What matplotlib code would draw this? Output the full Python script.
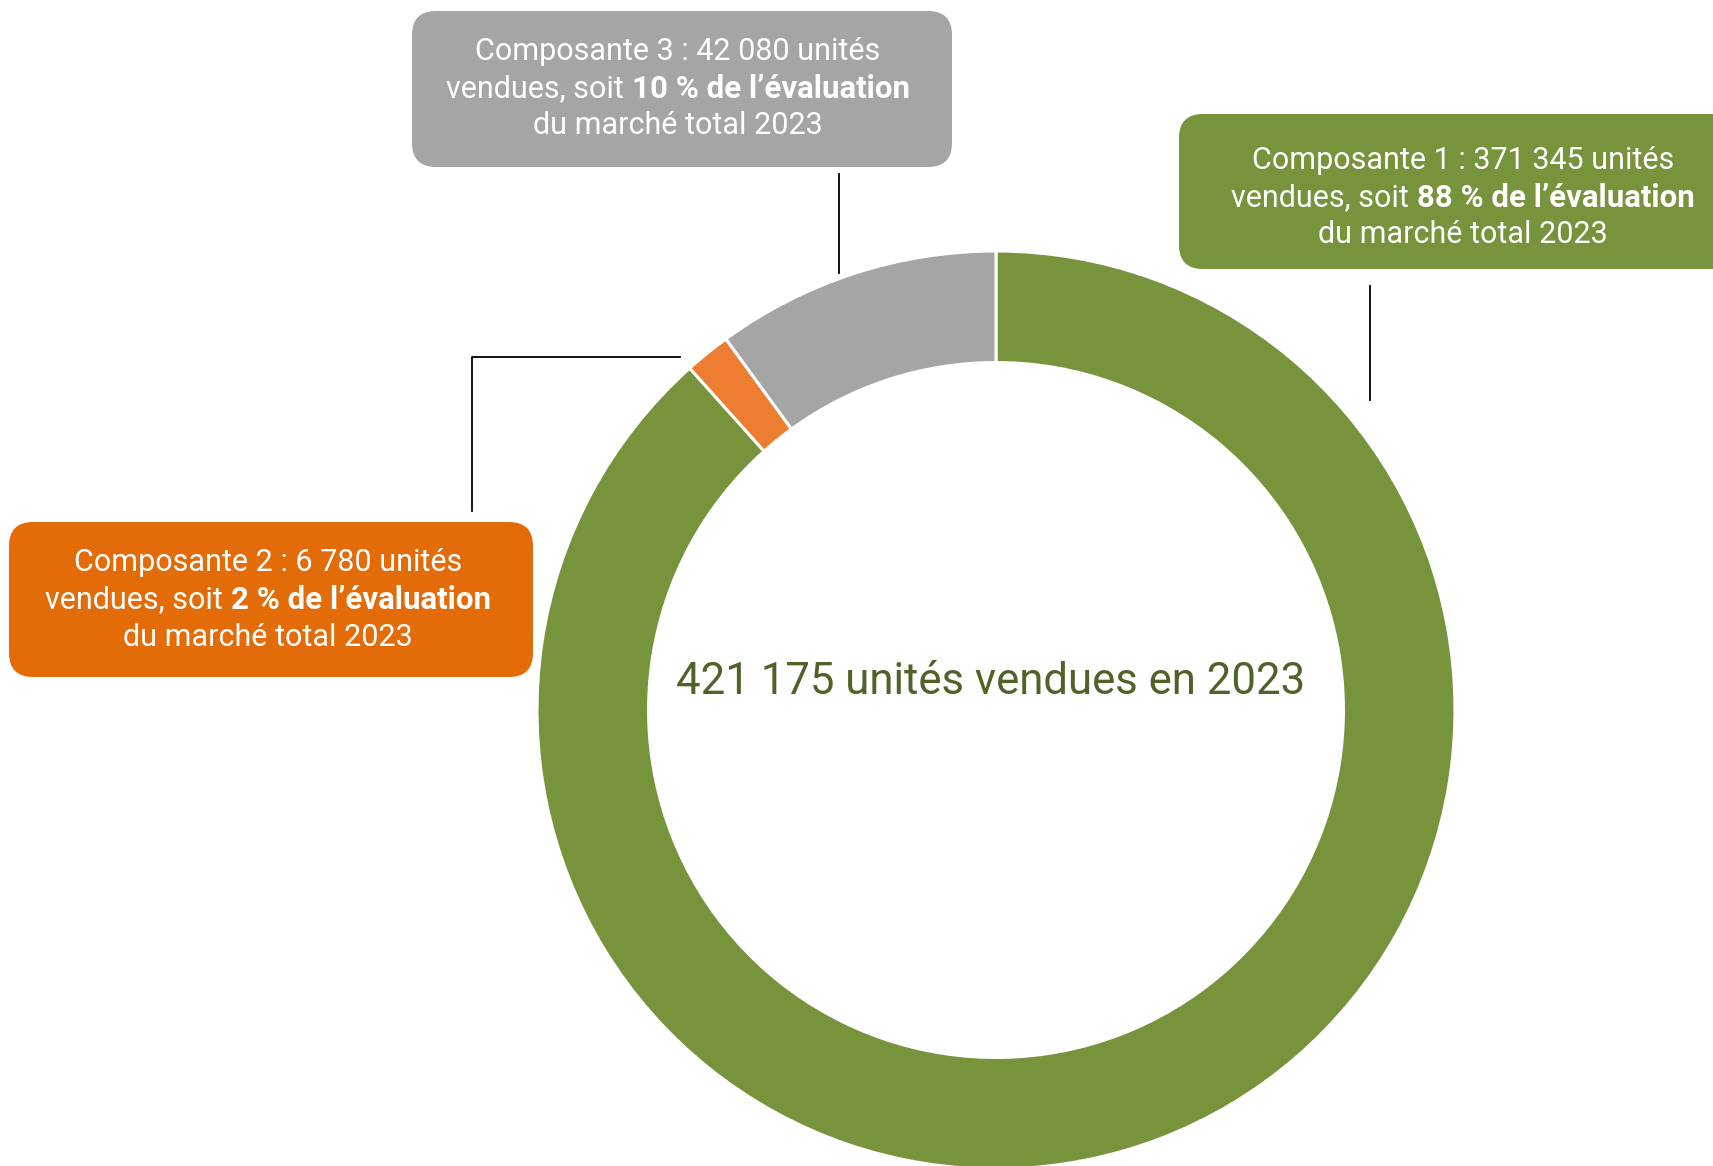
import matplotlib.pyplot as plt
from matplotlib.patches import FancyBboxPatch

# datos del grafico
composantes = ['Composante 1', 'Composante 2', 'Composante 3']
unites = [371345, 6780, 42080]
unites_txt = ['371 345', '6 780', '42 080']
pourcentages = ['88 %', '2 %', '10 %']
total_txt = '421 175'
annee = '2023'

couleurs_parts = ['#77933C', '#ED7D31', '#A5A5A5']
couleurs_boites = ['#77933C', '#E36C09', '#A5A5A5']

W, H = 1713, 1166
plt.rcParams['font.family'] = ['Roboto', 'DejaVu Sans']

fig = plt.figure(figsize=(W / 100, H / 100), dpi=100)
ax = fig.add_axes([0, 0, 1, 1])

# anillo (y medido desde arriba, se convierte)
cx, cy, r = 996, 710, 459
ax.pie(unites, colors=couleurs_parts, startangle=90, counterclock=False,
       center=(cx, H - cy), radius=r,
       wedgeprops=dict(width=r * 0.243, edgecolor='white', linewidth=2.2))

ax.set_xlim(0, W)
ax.set_ylim(0, H)
ax.set_aspect('auto')
ax.axis('off')

ax.text(991, H - 682, f'{total_txt} unités vendues en {annee}', ha='center', va='center',
        fontsize=31.5, color='#4F6228')

# cajas: (x0, y0, x1, y1) en pixeles desde arriba, centro del texto
boites = [
    dict(box=(1179, 114, 1740, 269), tx=1463, ty=[160.6, 197.7, 234.9]),
    dict(box=(9, 522, 533, 677), tx=268, ty=[562.6, 599.8, 637.0]),
    dict(box=(412, 11, 952, 167), tx=678, ty=[51.0, 88.5, 125.6]),
]

fig.canvas.draw()
rend = fig.canvas.get_renderer()
fs = 22

for i, b in enumerate(boites):
    x0, y0, x1, y1 = b['box']
    ax.add_patch(FancyBboxPatch((x0, H - y1), x1 - x0, y1 - y0,
                                boxstyle='round,pad=0,rounding_size=24',
                                fc=couleurs_boites[i], ec='none', zorder=3))
    tx, ty = b['tx'], b['ty']
    ax.text(tx, H - ty[0], f'{composantes[i]} : {unites_txt[i]} unités', ha='center',
            va='center', fontsize=fs, color='white', zorder=4)
    # segunda linea con parte en negrita
    t1 = ax.text(0, H - ty[1], 'vendues, soit ', ha='left', va='center', fontsize=fs,
                 color='white', zorder=4)
    t2 = ax.text(0, H - ty[1], f'{pourcentages[i]} de l’évaluation', ha='left', va='center',
                 fontsize=fs + 0.5, color='white', fontweight='bold', zorder=4)
    w1 = t1.get_window_extent(rend).width
    w2 = t2.get_window_extent(rend).width
    x_start = tx - (w1 + w2) / 2
    t1.set_x(x_start)
    t2.set_x(x_start + w1)
    ax.text(tx, H - ty[2], f'du marché total {annee}', ha='center', va='center',
            fontsize=fs, color='white', zorder=4)

# lineas conectoras
ax.plot([839, 839], [H - 174, H - 273], color='black', lw=1.3)
ax.plot([1370, 1370], [H - 286, H - 400], color='black', lw=1.3)
ax.plot([680, 472, 472], [H - 357, H - 357, H - 511], color='black', lw=1.3)

fig.savefig('out.png', dpi=100)
